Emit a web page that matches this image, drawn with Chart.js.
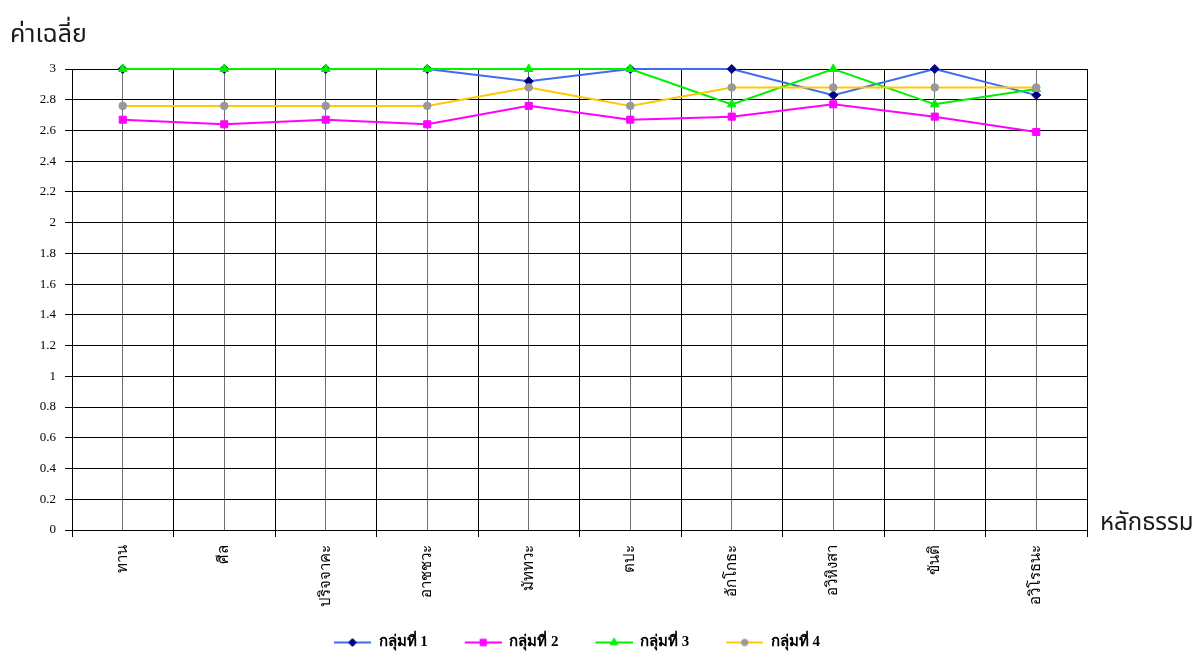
<!DOCTYPE html>
<html lang="th">
<head>
<meta charset="utf-8">
<title>ค่าเฉลี่ยหลักธรรม</title>
<script src="https://cdn.jsdelivr.net/npm/chart.js@4.4.1/dist/chart.umd.min.js"></script>
<style>
  html, body { margin: 0; padding: 0; background: #fff; }
  #wrap { width: 1200px; height: 652px; }
</style>
</head>
<body>
<div id="wrap"><canvas id="chart" width="1200" height="652"></canvas></div>
<script>
// ค่าที่อ่านจากกราฟ
const categories = ["ทาน", "ศีล", "ปริจจาคะ", "อาชชวะ", "มัททวะ", "ตปะ", "อักโกธะ", "อวิหิงสา", "ขันติ", "อวิโรธนะ"];
const seriesNames = ["กลุ่มที่ 1", "กลุ่มที่ 2", "กลุ่มที่ 3", "กลุ่มที่ 4"];
const group1 = [3, 3, 3, 3, 2.92, 3, 3, 2.83, 3, 2.83];
const group2 = [2.67, 2.64, 2.67, 2.64, 2.76, 2.67, 2.69, 2.77, 2.69, 2.59];
const group3 = [3, 3, 3, 3, 3, 3, 2.77, 3, 2.77, 2.87];
const group4 = [2.76, 2.76, 2.76, 2.76, 2.88, 2.76, 2.88, 2.88, 2.88, 2.88];
const yTickValues = [0, 0.2, 0.4, 0.6, 0.8, 1, 1.2, 1.4, 1.6, 1.8, 2, 2.2, 2.4, 2.6, 2.8, 3];
const yTitle = "ค่าเฉลี่ย";
const xTitle = "หลักธรรม";

const serif = "'Liberation Serif', 'Times New Roman', serif";
const sans = "'Noto Sans Thai', 'Noto Sans', 'DejaVu Sans', sans-serif";

// legend sample: blank lead-in (acts as the gap between items), then line + marker
const LEAD = 27, SAMPLE = 37;
function legendSample(lineColor, markColor, style, radius) {
  const c = document.createElement("canvas");
  c.width = LEAD + SAMPLE;
  c.height = 12;
  const g = c.getContext("2d");
  g.strokeStyle = lineColor;
  g.lineWidth = 2;
  g.beginPath();
  g.moveTo(LEAD, 6);
  g.lineTo(LEAD + SAMPLE, 6);
  g.stroke();
  g.fillStyle = markColor;
  g.strokeStyle = markColor;
  g.lineWidth = 1;
  Chart.helpers.drawPoint(g, { pointStyle: style, radius: radius, rotation: 0, borderWidth: 1 }, LEAD + SAMPLE / 2, 6);
  return c;
}

const styles = [
  { line: "#3d6cf0", mark: "#000080", shape: "rectRot", r: 4.5, order: 4 },
  { line: "#ff00ff", mark: "#ff00ff", shape: "rect", r: 5, order: 3 },
  { line: "#00f000", mark: "#00f000", shape: "triangle", r: 5, order: 2 },
  { line: "#ffc800", mark: "#999999", shape: "circle", r: 3.8, order: 1 }
];
const seriesData = [group1, group2, group3, group4];

const datasets = seriesData.map((d, i) => ({
  label: seriesNames[i],
  data: d,
  borderColor: styles[i].line,
  backgroundColor: styles[i].mark,
  borderWidth: 2,
  tension: 0,
  clip: false,
  pointStyle: styles[i].shape,
  pointRadius: styles[i].r,
  pointBackgroundColor: styles[i].mark,
  pointBorderColor: styles[i].mark,
  pointBorderWidth: 1,
  order: styles[i].order
}));

const samples = styles.map(s => legendSample(s.line, s.mark, s.shape, s.r - 0.5));

// axis titles sit outside the usual places, so draw them here
const axisTitles = {
  id: "axisTitles",
  afterLayout(chart) {
    // legend in the original sits a little left of the plot centre
    chart.legend.left -= 16;
    chart.legend.right -= 16;
  },
  afterDraw(chart) {
    const { ctx, chartArea } = chart;
    ctx.save();
    ctx.fillStyle = "#1a1a1a";
    ctx.textBaseline = "alphabetic";
    ctx.textAlign = "left";
    ctx.font = "25px " + sans;
    ctx.fillText(yTitle, 10, 42);
    ctx.font = "24px " + sans;
    ctx.fillText(xTitle, chartArea.right + 13, chartArea.bottom);
    ctx.restore();
  }
};

new Chart(document.getElementById("chart"), {
  type: "line",
  data: { labels: categories, datasets: datasets },
  plugins: [axisTitles],
  options: {
    responsive: false,
    animation: false,
    layout: { padding: { left: 0, right: 113, top: 69, bottom: -8 } },
    plugins: {
      tooltip: { enabled: false },
      legend: {
        position: "bottom",
        fullSize: false,
        labels: {
          usePointStyle: true,
          pointStyleWidth: LEAD + SAMPLE,
          padding: 10,
          color: "#000",
          font: { family: serif, size: 15, weight: "bold" },
          generateLabels(chart) {
            return chart.data.datasets.map((ds, i) => ({
              text: ds.label,
              pointStyle: samples[i],
              fillStyle: ds.borderColor,
              strokeStyle: ds.borderColor,
              lineWidth: 0,
              hidden: false,
              datasetIndex: i
            }));
          }
        }
      }
    },
    scales: {
      x: {
        type: "category",
        offset: true,
        grid: { offset: true, color: "#000", lineWidth: 1, tickLength: 7, tickColor: "#000" },
        border: { color: "#000", width: 1 },
        ticks: {
          minRotation: 90,
          maxRotation: 90,
          autoSkip: false,
          padding: 8,
          color: "#000",
          font: { family: serif, size: 15 }
        },
        afterFit(s) { s.height = 95; }
      },
      x2: {
        type: "category",
        offset: true,
        position: "bottom",
        grid: { offset: false, color: "#707070", lineWidth: 1, drawTicks: false },
        ticks: { display: false },
        border: { display: false }
      },
      y: {
        min: 0,
        max: 3,
        afterBuildTicks(s) { s.ticks = yTickValues.map(v => ({ value: v })); },
        grid: { color: "#000", lineWidth: 1, tickLength: 7, tickColor: "#000" },
        border: { color: "#000", width: 1 },
        ticks: {
          padding: 9,
          color: "#000",
          font: { family: serif, size: 13 },
          callback: v => String(+Number(v).toFixed(1))
        },
        afterFit(s) { s.width = 72; }
      }
    }
  }
});
</script>
</body>
</html>
